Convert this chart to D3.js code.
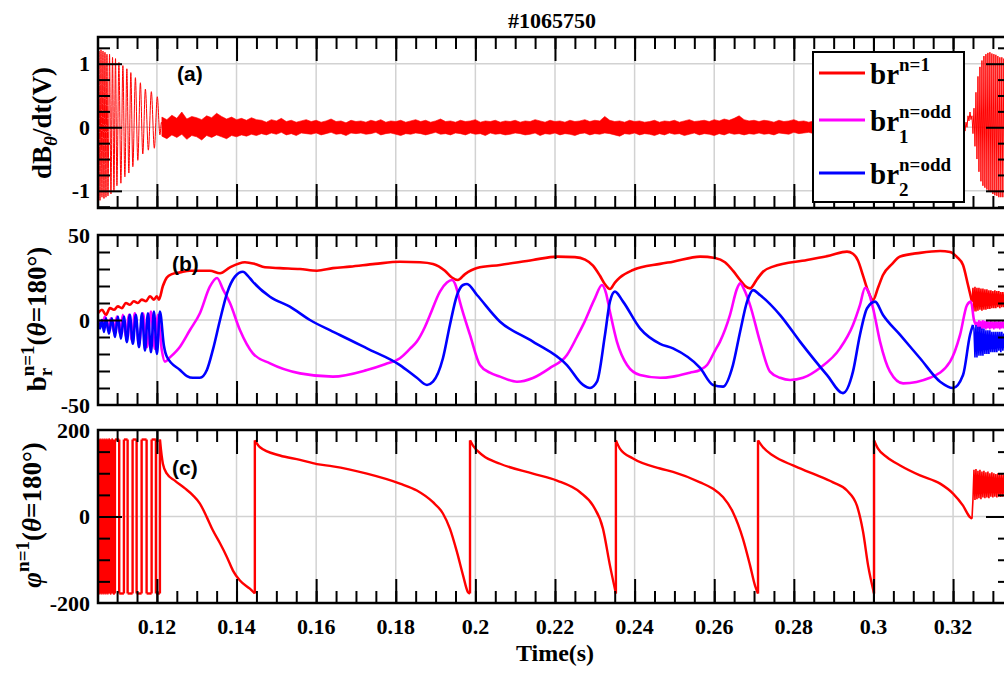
<!DOCTYPE html>
<html>
<head>
<meta charset="utf-8">
<script src="https://cdn.jsdelivr.net/npm/d3@7"></script>
<style>
  body { margin: 0; background: #fff; }
  svg { display: block; }
  text { font-family: "Liberation Serif", "Times New Roman", serif; font-weight: bold; fill: #000; }
  .plabel { font-family: "Liberation Sans", Arial, sans-serif; }
</style>
</head>
<body>
<svg id="chart" width="1004" height="673"></svg>
<script>
// ---------------- data (time in ms) ----------------
const shotTitle = "#1065750";
const timeDomain = [105.2, 334.3];

const xMajorTicks = [120, 140, 160, 180, 200, 220, 240, 260, 280, 300, 320];
const xTickLabels = ["0.12", "0.14", "0.16", "0.18", "0.2", "0.22", "0.24", "0.26", "0.28", "0.3", "0.32"];
const xMinorTicks = [110, 115, 120, 125, 130, 135, 140, 145, 150, 155, 160, 165, 170, 175, 180, 185, 190, 195,
  200, 205, 210, 215, 220, 225, 230, 235, 240, 245, 250, 255, 260, 265, 270, 275, 280, 285, 290, 295, 300,
  305, 310, 315, 320, 325, 330];

// (a) dB_theta/dt : precursor oscillation, broadband noise band, late oscillation
const dBdtOsc = [[105.2,0],[105.45,1.2],[105.7,-1.15],[105.95,1.22],[106.2,-1.1],[106.45,1.2],[106.7,-1.12],
  [106.95,1.18],[107.2,-1.1],[107.45,1.15],[107.7,-1.08],[108.1,1.15],[108.45,-1.05],[108.85,1.1],[109.2,-1.0],
  [109.6,1.08],[109.95,-0.92],[110.45,1.02],[110.95,-0.88],[111.45,0.97],[111.95,-0.78],[112.45,0.92],
  [112.95,-0.72],[113.45,0.86],[113.95,-0.62],[114.6,0.78],[115.2,-0.52],[115.85,0.7],[116.45,-0.42],
  [117.1,0.6],[117.85,-0.36],[118.6,0.56],[119.35,-0.33],[120.1,0.48],[120.75,-0.12],[121.15,0.08],[121.5,0.0]];

const noiseStart = 121.25, noiseStep = 1.25;
const noiseUpper = [
  0.16,0.12,0.19,0.14,0.24,0.13,0.17,0.15,0.12,0.18,
  0.15,0.22,0.17,0.13,0.16,0.12,0.14,0.11,0.15,0.12,
  0.11,0.08,0.12,0.10,0.14,0.09,0.11,0.08,0.10,0.12,
  0.09,0.11,0.08,0.10,0.13,0.09,0.10,0.07,0.11,0.09,
  0.10,0.08,0.11,0.09,0.12,0.08,0.10,0.09,0.11,0.08,
  0.10,0.12,0.09,0.11,0.08,0.10,0.13,0.09,0.10,0.08,
  0.11,0.09,0.10,0.12,0.08,0.10,0.09,0.11,0.08,0.10,
  0.09,0.11,0.08,0.10,0.09,0.12,0.10,0.08,0.11,0.09,
  0.10,0.08,0.11,0.09,0.10,0.12,0.09,0.11,0.10,0.17,
  0.11,0.09,0.10,0.08,0.11,0.09,0.10,0.08,0.09,0.11,
  0.08,0.10,0.09,0.11,0.08,0.10,0.12,0.09,0.10,0.11,
  0.09,0.12,0.10,0.13,0.11,0.14,0.18,0.12,0.10,0.11,
  0.09,0.11,0.10,0.08,0.11,0.09,0.10,0.12,0.09,0.10,
  0.08,0.10,0.08,0.11,0.09];
const noiseLower = [
  -0.14,-0.18,-0.12,-0.16,-0.11,-0.19,-0.13,-0.15,-0.20,-0.13,
  -0.16,-0.12,-0.15,-0.18,-0.13,-0.15,-0.12,-0.14,-0.11,-0.13,
  -0.10,-0.12,-0.09,-0.11,-0.08,-0.12,-0.10,-0.13,-0.09,-0.10,
  -0.11,-0.09,-0.12,-0.10,-0.08,-0.11,-0.10,-0.13,-0.09,-0.10,
  -0.09,-0.11,-0.10,-0.08,-0.12,-0.10,-0.09,-0.11,-0.13,-0.10,
  -0.11,-0.09,-0.10,-0.12,-0.10,-0.08,-0.11,-0.10,-0.12,-0.09,
  -0.10,-0.12,-0.09,-0.11,-0.10,-0.13,-0.09,-0.11,-0.10,-0.12,
  -0.11,-0.09,-0.10,-0.12,-0.11,-0.09,-0.13,-0.10,-0.11,-0.09,
  -0.12,-0.10,-0.11,-0.13,-0.10,-0.09,-0.12,-0.10,-0.11,-0.09,
  -0.10,-0.12,-0.14,-0.10,-0.11,-0.09,-0.12,-0.10,-0.11,-0.13,
  -0.10,-0.12,-0.09,-0.11,-0.10,-0.13,-0.11,-0.09,-0.12,-0.10,
  -0.11,-0.13,-0.10,-0.12,-0.09,-0.11,-0.10,-0.12,-0.10,-0.11,
  -0.09,-0.11,-0.10,-0.12,-0.09,-0.10,-0.11,-0.08,-0.10,-0.09,
  -0.08,-0.10,-0.11,-0.09,-0.10];

const dBdtLateStart = 322.75, dBdtLateStep = 0.25;
const dBdtLate = [0.06,-0.06,0.08,0.0,0.18,0.1,0.24,0.12,0.18,-0.1,0.3,-0.3,0.55,-0.5,0.8,-0.7,0.95,-0.85,
  1.05,-0.92,1.12,-0.95,1.15,-0.98,1.17,-1.0,1.18,-1.02,1.16,-1.05,1.15,-1.07,1.14,-1.08,1.12,-1.1,1.1,-1.1,
  1.1,-1.1,1.08,-1.1,1.08,-1.1,1.06,-1.1,1.06];

// (b) b_r^{n=1} amplitudes
const brN1 = [[105.2,4],[106.2,6],[107.2,3],[108.2,7],[109.2,6],[110.2,8],[111.2,7],[112.2,10],[113.2,9],
  [114.2,11],[115.2,10],[116.2,12],[117.25,11],[118.25,14],[119.25,12],[120.0,14],[120.5,12],[121.5,20],
  [122.5,25],[123.75,27],[125.8,28],[128.3,29],[130.8,29],[133.3,29],[135.85,27.5],[138.35,31],[142.1,34],
  [144.6,33],[147.15,31],[150.9,30.5],[155.95,30],[160.2,29],[164.2,30.5],[168.5,31.4],[174.8,33],
  [181.05,34.3],[186.1,34],[189.35,33],[192.35,29],[194.1,25],[195.6,23.5],[197.4,27],[200.4,30.6],
  [206.2,32.4],[214.45,35.3],[220.5,37.3],[225.0,37],[227.55,35.5],[229.55,32],[231.3,26],[232.55,21],
  [233.8,18.2],[235.05,22],[236.3,25],[239.6,29.4],[246.4,33],[249.65,34.3],[256.45,37.3],[260.2,36.5],
  [262.7,34],[264.7,29],[266.5,23.5],[267.75,20],[269.0,18.6],[270.75,24],[272.25,28.4],[274.75,31.4],
  [283.3,35.3],[289.1,38],[293.35,40.2],[294.85,39],[296.1,35],[297.4,26],[298.65,17],[299.9,11.8],
  [301.15,19],[302.4,26.5],[304.7,33],[306.7,37.3],[311.7,39.5],[316.75,40.6],[319.25,40],[321.0,37],
  [322.5,32.4],[323.75,20.6],[324.75,10.8]];
const brN1TailStart = 325.0;
const brN1Tail = [19,5,19.5,5,19,5.5,19,6,18.5,5.5,18.5,6,18,6,18,6.5,17.5,6.5,17.5,7,17,7,17.5,7,17,7.5,
  17,7,16.5,7.5,16.5,7.5,16.5,7.5,16.5,7.5,16.5,7.5];

const brOdd1 = [[105.2,0],[106.2,-3],[106.95,2],[107.7,-5],[108.45,1],[109.2,-7],[109.95,2],[110.7,-8],
  [111.45,3],[112.2,-10],[112.95,3],[113.7,-12],[114.45,4],[115.5,-14],[116.5,4],[117.5,-16],[118.5,5],
  [119.5,-17],[120.25,3],[121.25,-18],[122.0,-24.5],[123.25,-22],[125.8,-15.7],[128.3,-5.9],[130.8,4],
  [133.3,19.6],[135.1,24.7],[136.6,18],[138.35,10],[140.85,-5.9],[144.1,-19.6],[148.4,-25.5],[155.95,-31.4],
  [164.2,-33.3],[172.75,-29.4],[177.3,-26],[181.05,-22.5],[183.55,-17],[185.3,-12.7],[187.35,-4],
  [188.6,2.9],[191.1,16.7],[192.85,22],[194.1,23.5],[195.1,20],[196.1,10.8],[198.65,-8.8],[201.15,-26.5],
  [203.65,-31],[206.2,-33.3],[210.45,-36.3],[214.45,-34.1],[218.75,-28.2],[223.0,-20.6],[225.5,-10],
  [227.05,-2.9],[230.05,12.9],[231.8,20.6],[232.8,16],[233.8,4.9],[235.55,-12.7],[238.1,-26.5],
  [241.35,-32.4],[246.4,-34],[249.65,-33.3],[253.9,-31],[256.45,-29.4],[258.2,-26.5],[260.2,-18],
  [261.45,-12.7],[263.95,2.9],[265.75,18.6],[266.5,21.6],[267.5,18],[269.0,8.8],[271.5,-12.7],[274.0,-30.4],
  [276.55,-34],[279.05,-35.3],[282.3,-34],[286.55,-28.2],[291.6,-16.7],[294.85,-2.9],[296.6,8.8],[297.9,19],
  [298.65,17],[299.9,6.9],[301.65,-12.7],[304.15,-30.4],[307.45,-37.3],[314.2,-34],[319.25,-24.5],
  [321.75,-8.8],[323.5,8.8],[324.5,10.8],[325.25,0],[325.75,-3]];
const brOdd1TailStart = 326.0;
const brOdd1Tail = [-1,-6,0,-5.5,-0.5,-6,0,-5,-0.5,-5.5,0,-5,-1,-5.5,-0.5,-5,-1,-5.5,-0.5,-5,-1,-5,-0.5,
  -5.5,-1,-5,-0.5,-5,-1,-5,-0.5,-5,-1,-5];

const brOdd2 = [[105.2,0],[105.7,-5],[106.2,0],[106.7,-7],[107.2,1],[107.95,-8],[108.7,1],[109.45,-10],
  [110.2,2],[110.95,-11],[111.7,2],[112.45,-13],[113.2,3],[113.95,-14],[114.7,3],[115.5,-16],[116.25,4],
  [117.0,-18],[117.75,4],[118.5,-19],[119.25,5],[120.0,-20],[120.75,5],[121.75,-15],[122.5,-21.6],
  [125.8,-29.4],[127.55,-33],[129.05,-34],[130.8,-34],[132.55,-29.4],[134.05,-17.6],[135.85,0],[137.6,15.7],
  [139.6,25.5],[141.6,28.4],[142.85,26],[144.1,22.5],[148.4,13.7],[153.4,7.8],[158.45,0],[163.45,-6],
  [165.95,-8.8],[172.75,-16.7],[181.05,-26.5],[185.3,-34],[187.85,-38.2],[189.35,-36.3],[191.85,-22.5],
  [193.6,-2.9],[195.4,14.7],[196.9,20.6],[197.9,21.2],[200.4,14.7],[206.2,-1],[214.45,-12.7],[223.0,-26.5],
  [227.05,-38.2],[228.8,-40],[230.55,-36.3],[232.55,-8.8],[233.8,10.8],[235.05,16.7],[237.1,10.8],
  [241.35,-4.9],[246.4,-14],[249.65,-16.7],[256.45,-28.2],[259.7,-38.2],[262.2,-39.2],[264.7,-26.5],
  [266.5,-6.9],[268.25,10.8],[269.75,17.6],[271.5,14.7],[276.55,2.9],[281.55,-12.7],[288.35,-32.4],
  [292.35,-43],[294.85,-30.4],[296.6,-8.8],[298.4,6.9],[300.4,10.8],[302.4,2.9],[306.7,-8.8],[311.7,-22.5],
  [316.75,-36.3],[320.0,-40],[322.5,-32.4],[324.25,-8.8],[325.0,-2.9]];
const brOdd2TailStart = 325.25;
const brOdd2Tail = [-5,-22,-3,-22,-4,-21,-4,-21,-5,-21,-5,-20,-6,-20,-6,-20,-6,-19,-7,-19,-7,-19,-7,-19,
  -7,-18,-7,-19,-7,-18,-8,-18,-7,-18,-8,-18];

// (c) phase phi^{n=1}: early fast rotation flips between the +-180 limits, then the phase trace
const phaseLimit = [-178, 178];
const phaseFlipTimes = [105.30,105.55,105.80,106.05,106.31,106.56,106.81,107.06,107.31,107.56,107.81,
  108.19,108.57,108.94,109.45,110.53,111.71,112.64,113.89,114.90,116.16,117.41,118.67,119.75,120.75];
const phase = [[121.5,122],[122.5,99],[124.5,83],[127.05,65],[129.05,49],[130.8,30],[132.55,-2],
  [134.05,-32],[135.85,-62],[137.6,-94],[139.1,-125],[140.85,-148],[143.35,-167],[144.6,-178],[144.6,176],
  [145.9,160],[150.9,141],[155.95,131],[160.2,121],[164.2,116],[172.75,99],[181.05,76],[185.3,60],
  [189.35,33],[191.85,7],[193.6,-28],[195.4,-83],[196.9,-136],[198.15,-175],[198.65,-178],[198.65,176],
  [199.4,164],[201.9,141],[206.2,122],[214.45,99],[220.5,83],[226.3,56],[229.55,25],[232.05,-28],
  [233.8,-113],[235.3,-178],[235.3,176],[236.3,157],[239.6,134],[246.4,111],[249.65,103],[256.45,79],
  [259.7,64],[262.2,45],[264.7,10],[267.2,-51],[269.0,-113],[270.25,-160],[271.0,-178],[271.0,176],
  [272.25,160],[274.75,141],[279.8,118],[284.8,99],[289.85,79],[293.35,60],[295.85,25],[297.4,-36],
  [298.65,-113],[300.15,-178],[300.15,176],[301.15,157],[303.4,137],[306.7,118],[311.7,95],[316.75,76],
  [320.0,53],[322.5,25],[324.25,-1.5],[324.75,-5]];
const phaseTailStart = 325.0;
const phaseTail = [40,108,38,110,40,106,42,108,40,104,44,106,42,102,44,104,42,100,46,102,44,100,46,98,44,
  100,46,98,45,99,46,97,45,98,46,97,45,98];

const tailStep = 0.25;

// axis ticks per panel
const aTicksMinor = [-1.25, -0.75, -0.5, -0.25, 0.25, 0.5, 0.75, 1.25];
const aTicksMajor = [-1, 0, 1];
const aTickLabels = ["-1", "0", "1"];
const bTicksMinor = [-40, -30, -20, -10, 10, 20, 30, 40];
const bTicksMajor = [0];
const bLabelValues = [-50, 0, 50];
const bTickLabels = ["-50", "0", "50"];
const cTicksMinor = [-150, -100, -50, 50, 100, 150];
const cTicksMajor = [0];
const cLabelValues = [-200, 0, 200];
const cTickLabels = ["-200", "0", "200"];

const legendNames = ["n=1", "n=odd", "n=odd"];
const legendSubs = [null, "1", "2"];

// ---------------- layout ----------------
const RED = "#ff0000", MAGENTA = "#ff00ff", BLUE = "#0000ff";
const L = 98, R = 1010;
const P = {
  a: { top: 37, bottom: 208, domain: [-1.27, 1.42] },
  b: { top: 235, bottom: 405, domain: [-50, 50] },
  c: { top: 430, bottom: 603, domain: [-200, 200] }
};
const MAJ = 24, MIN = 12;

const svg = d3.select("#chart");
const x = d3.scaleLinear().domain(timeDomain).range([L, R]);
const defs = svg.append("defs");

function yScale(p) { return d3.scaleLinear().domain(p.domain).range([p.bottom, p.top]); }
function series(start, step, vals) { return vals.map((v, i) => [start + i * step, v]); }

function panelBase(key, p, y, gridY) {
  defs.append("clipPath").attr("id", "clip-" + key).append("rect")
    .attr("x", L).attr("y", p.top).attr("width", R - L).attr("height", p.bottom - p.top);
  const g = svg.append("g");
  g.selectAll("line.gx").data(xMajorTicks).join("line").attr("class", "gx")
    .attr("x1", d => x(d)).attr("x2", d => x(d)).attr("y1", p.top).attr("y2", p.bottom)
    .attr("stroke", "#d2d2d2").attr("stroke-width", 1.5);
  g.selectAll("line.gy").data(gridY).join("line").attr("class", "gy")
    .attr("x1", L).attr("x2", R).attr("y1", d => y(d)).attr("y2", d => y(d))
    .attr("stroke", "#d2d2d2").attr("stroke-width", 1.5);
  return svg.append("g").attr("clip-path", "url(#clip-" + key + ")");
}

function panelAxes(p, y, minorY, majorY) {
  const g = svg.append("g");
  const add = (axis, vals, len, tr) => {
    const a = g.append("g").attr("transform", tr)
      .call(axis.tickValues(vals).tickSize(-len).tickSizeOuter(0).tickFormat(""));
    a.select(".domain").remove();
    a.selectAll("line").attr("stroke", "#000").attr("stroke-width", 2);
  };
  add(d3.axisBottom(x), xMinorTicks, MIN, `translate(0,${p.bottom})`);
  add(d3.axisBottom(x), xMajorTicks, MAJ, `translate(0,${p.bottom})`);
  add(d3.axisTop(x), xMinorTicks, MIN, `translate(0,${p.top})`);
  add(d3.axisTop(x), xMajorTicks, MAJ, `translate(0,${p.top})`);
  add(d3.axisLeft(y), minorY, MIN, `translate(${L},0)`);
  add(d3.axisLeft(y), majorY, MAJ, `translate(${L},0)`);
  add(d3.axisRight(y), minorY, MIN, `translate(${R},0)`);
  add(d3.axisRight(y), majorY, MAJ, `translate(${R},0)`);
  g.append("rect").attr("x", L).attr("y", p.top).attr("width", R - L).attr("height", p.bottom - p.top)
    .attr("fill", "none").attr("stroke", "#000").attr("stroke-width", 2.5);
}

function yLabels(y, vals, labels) {
  svg.append("g").selectAll("text").data(vals).join("text")
    .attr("x", 90).attr("y", d => y(d) + 7.5).attr("text-anchor", "end")
    .attr("font-size", 22).text((d, i) => labels[i]);
}

// rich text: parts {t, size, dy (baseline offset), italic, stack (remember width), back (stack under previous)}
function rich(textSel, parts, base) {
  let cur = 0, stackW = 0, pending = 0;
  parts.forEach(p => {
    const off = p.dy || 0;
    const ts = textSel.append("tspan").text(p.t).attr("font-size", p.size || base).attr("dy", off - cur);
    if (p.italic) ts.attr("font-style", "italic");
    cur = off;
    if (p.back) ts.attr("dx", -stackW);
    else if (pending > 0) { ts.attr("dx", pending); pending = 0; }
    const w = ts.node().getComputedTextLength();
    if (p.stack) stackW = w;
    if (p.back) pending = stackW - w;
  });
  return textSel;
}

function yTitle(parts, baseX, centerY) {
  const g = svg.append("g");
  const t = rich(g.append("text").attr("x", 0).attr("y", 0), parts, 27);
  const w = t.node().getBBox().width;
  t.attr("x", -w / 2);
  g.attr("transform", `translate(${baseX},${centerY}) rotate(-90)`);
}

// ---------------- panel (a) ----------------
const ya = yScale(P.a);
const ga = panelBase("a", P.a, ya, aTicksMajor);
ga.append("path").datum(dBdtOsc)
  .attr("d", d3.line().x(d => x(d[0])).y(d => ya(d[1])).curve(d3.curveMonotoneX))
  .attr("fill", "none").attr("stroke", RED).attr("stroke-width", 1);
ga.append("path").datum(noiseUpper.map((u, i) => [noiseStart + i * noiseStep, noiseLower[i], u]))
  .attr("d", d3.area().x(d => x(d[0])).y0(d => ya(d[1])).y1(d => ya(d[2])))
  .attr("fill", RED).attr("stroke", RED).attr("stroke-width", 0.6).attr("stroke-linejoin", "round");
ga.append("path").datum(series(dBdtLateStart, dBdtLateStep, dBdtLate))
  .attr("d", d3.line().x(d => x(d[0])).y(d => ya(d[1])))
  .attr("fill", "none").attr("stroke", RED).attr("stroke-width", 1);
panelAxes(P.a, ya, aTicksMinor, aTicksMajor);
yLabels(ya, aTicksMajor, aTickLabels);

// ---------------- panel (b) ----------------
const yb = yScale(P.b);
const gb = panelBase("b", P.b, yb, bTicksMajor);
const lineB = d3.line().x(d => x(d[0])).y(d => yb(d[1]));
[[brN1, brN1TailStart, brN1Tail, RED], [brOdd1, brOdd1TailStart, brOdd1Tail, MAGENTA],
 [brOdd2, brOdd2TailStart, brOdd2Tail, BLUE]].forEach(([main, ts, tail, col]) => {
  gb.append("path").attr("d", lineB.curve(d3.curveMonotoneX)(main))
    .attr("fill", "none").attr("stroke", col).attr("stroke-width", 2.6).attr("stroke-linejoin", "round");
  const tailPts = [main[main.length - 1]].concat(series(ts, tailStep, tail));
  gb.append("path").attr("d", lineB.curve(d3.curveLinear)(tailPts))
    .attr("fill", "none").attr("stroke", col).attr("stroke-width", 1.6);
});
panelAxes(P.b, yb, bTicksMinor, bTicksMajor);
yLabels(yb, bLabelValues, bTickLabels);

// ---------------- panel (c) ----------------
const yc = yScale(P.c);
const gc = panelBase("c", P.c, yc, cTicksMajor);
// early part: the phase sits on one limit and flips to the other at each flip instant
const phaseAll = [[timeDomain[0], phaseLimit[0]]];
phaseFlipTimes.forEach((t, i) => {
  const from = phaseLimit[i % 2], to = phaseLimit[(i + 1) % 2];
  phaseAll.push([t, from]);
  phaseAll.push([t, to]);
});
phase.forEach(d => phaseAll.push(d));
// split the trace at vertical jumps; each branch is drawn smooth, jumps as straight strokes
const branches = [[phaseAll[0]]];
for (let i = 1; i < phaseAll.length; i++) {
  if (phaseAll[i][0] === phaseAll[i - 1][0]) branches.push([phaseAll[i]]);
  else branches[branches.length - 1].push(phaseAll[i]);
}
const lineC = d3.line().x(d => x(d[0])).y(d => yc(d[1]));
branches.forEach(br => {
  gc.append("path").attr("d", lineC.curve(br.length > 2 ? d3.curveMonotoneX : d3.curveLinear)(br))
    .attr("fill", "none").attr("stroke", RED).attr("stroke-width", 2.4).attr("stroke-linejoin", "round");
});
for (let i = 1; i < branches.length; i++) {
  const a = branches[i - 1][branches[i - 1].length - 1], b = branches[i][0];
  gc.append("path").attr("d", lineC.curve(d3.curveLinear)([a, b]))
    .attr("fill", "none").attr("stroke", RED).attr("stroke-width", 2.4);
}
gc.append("path").attr("d", lineC.curve(d3.curveLinear)([phase[phase.length - 1]].concat(series(phaseTailStart, tailStep, phaseTail))))
  .attr("fill", "none").attr("stroke", RED).attr("stroke-width", 1.6);
panelAxes(P.c, yc, cTicksMinor, cTicksMajor);
yLabels(yc, cLabelValues, cTickLabels);

// x tick labels and axis title
svg.append("g").selectAll("text").data(xMajorTicks).join("text")
  .attr("x", d => x(d)).attr("y", 634).attr("text-anchor", "middle").attr("font-size", 22)
  .text((d, i) => xTickLabels[i]);
svg.append("text").attr("x", 555).attr("y", 661).attr("text-anchor", "middle").attr("font-size", 24).text("Time(s)");
svg.append("text").attr("x", 552).attr("y", 28).attr("text-anchor", "middle").attr("font-size", 22).text(shotTitle);

// panel tags
svg.append("text").attr("class", "plabel").attr("x", 177).attr("y", 81).attr("font-size", 21).text("(a)");
svg.append("text").attr("class", "plabel").attr("x", 172).attr("y", 271).attr("font-size", 21).text("(b)");
svg.append("text").attr("class", "plabel").attr("x", 172).attr("y", 475).attr("font-size", 21).text("(c)");

// y-axis titles
yTitle([{ t: "dB" }, { t: "θ", size: 19, dy: 6, italic: true }, { t: "/dt(V)", dy: 0 }], 51, 123);
yTitle([{ t: "b" }, { t: "n=1", size: 19, dy: -12, stack: true }, { t: "r", size: 19, dy: 6, back: true },
  { t: "(", dy: 0 }, { t: "θ", italic: true }, { t: "=180°)" }], 46, 319);
yTitle([{ t: "φ", italic: true }, { t: "n=1", size: 19, dy: -12 }, { t: "(", dy: 0 }, { t: "θ", italic: true },
  { t: "=180°)" }], 41, 515);

// legend
const lg = svg.append("g");
lg.append("rect").attr("x", 813).attr("y", 52).attr("width", 151).attr("height", 150)
  .attr("fill", "#fff").attr("stroke", "#000").attr("stroke-width", 2);
const legendRows = [73, 120, 173];
const legendColors = [RED, MAGENTA, BLUE];
legendRows.forEach((ly, i) => {
  lg.append("line").attr("x1", 819).attr("x2", 865).attr("y1", ly).attr("y2", ly)
    .attr("stroke", legendColors[i]).attr("stroke-width", 3);
  const parts = [{ t: "br" }, { t: legendNames[i], size: 19, dy: -13, stack: true }];
  if (legendSubs[i]) parts.push({ t: legendSubs[i], size: 19, dy: 12, back: true });
  rich(lg.append("text").attr("x", 870).attr("y", ly + 11), parts, 29);
});
</script>
</body>
</html>
